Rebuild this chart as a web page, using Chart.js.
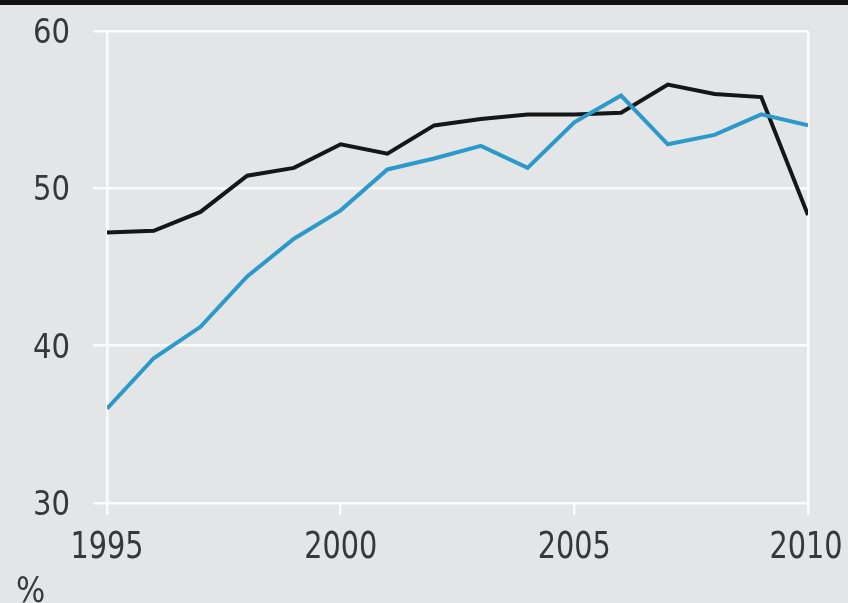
<!DOCTYPE html>
<html>
<head>
<meta charset="utf-8">
<script src="https://cdn.jsdelivr.net/npm/chart.js@4"></script>
<style>
  html, body { margin: 0; padding: 0; background: #e4e5e6; }
  #wrap { position: relative; width: 848px; height: 603px; overflow: hidden; }
  #topbar { position: absolute; left: 0; top: 0; width: 848px; height: 5px; background: #111; }
  canvas { display: block; }
</style>
</head>
<body>
<div id="wrap">
  <canvas id="c" width="848" height="603"></canvas>
  <div id="topbar"></div>
</div>
<script>
// chart values
const years = [1995, 1996, 1997, 1998, 1999, 2000, 2001, 2002, 2003, 2004, 2005, 2006, 2007, 2008, 2009, 2010];
const blackSeries = [47.2, 47.3, 48.5, 50.8, 51.3, 52.8, 52.2, 54.0, 54.4, 54.7, 54.7, 54.8, 56.6, 56.0, 55.8, 48.3];
const blueSeries = [36.0, 39.2, 41.2, 44.4, 46.8, 48.6, 51.2, 51.9, 52.7, 51.3, 54.2, 55.9, 52.8, 53.4, 54.7, 54.0];
const yTicks = [30, 40, 50, 60];
const xTicks = [1995, 2000, 2005, 2010];
const unitLabel = "%";

const FONT = "'DejaVu Sans Condensed', 'DejaVu Sans', sans-serif";
const INK = "#383838";
const WHITE = "#fbfbfb";

const toPts = (arr) => arr.map((v, i) => ({ x: years[i], y: v }));

// squeezed text, to get closer to the narrow DIN-style face of the original
function narrowText(ctx, text, x, y, size, squeeze, align) {
  ctx.save();
  ctx.font = size + "px " + FONT;
  ctx.fillStyle = INK;
  ctx.textBaseline = "alphabetic";
  ctx.textAlign = align;
  ctx.translate(x, y);
  ctx.scale(squeeze, 1);
  ctx.fillText(text, 0, 0);
  ctx.restore();
}

// tick labels + "%" unit, placed from the chart's own scales
const labelsPlugin = {
  id: "labels",
  afterDraw(chart) {
    const ctx = chart.ctx;
    const xs = chart.scales.x, ys = chart.scales.y;
    xs.ticks.forEach((t) => {
      let px = xs.getPixelForValue(t.value);
      px = Math.min(px, 806);
      narrowText(ctx, String(t.value), px, xs.bottom - 45, 38, 0.84, "center");
    });
    ys.ticks.forEach((t) => {
      narrowText(ctx, String(t.value), 70, ys.getPixelForValue(t.value) + 12, 34, 0.95, "right");
    });
    narrowText(ctx, unitLabel, 16, 602, 36, 0.95, "left");
  },
};

new Chart(document.getElementById("c").getContext("2d"), {
  type: "line",
  data: {
    datasets: [
      { data: toPts(blueSeries), borderColor: "#2b9acb", borderWidth: 4, pointRadius: 0, tension: 0 },
      { data: toPts(blackSeries), borderColor: "#161616", borderWidth: 4, pointRadius: 0, tension: 0 },
    ],
  },
  options: {
    responsive: false, animation: false,
    layout: { padding: { top: 31, right: 40, left: 0, bottom: 0 } },
    scales: {
      x: {
        type: "linear", min: 1995, max: 2010,
        afterBuildTicks: (s) => { s.ticks = xTicks.map((v) => ({ value: v })); },
        afterFit: (s) => { s.height = 100; s.paddingLeft = 0; s.paddingRight = 0; },
        ticks: { display: false },
        grid: { color: (c) => (c.tick && (c.tick.value === 1995 || c.tick.value === 2010)) ? WHITE : "rgba(0,0,0,0)",
          tickColor: WHITE, lineWidth: 2.5, tickLength: 12 },
        border: { display: false },
      },
      y: {
        min: 30, max: 60,
        afterBuildTicks: (s) => { s.ticks = yTicks.map((v) => ({ value: v })); },
        afterFit: (s) => { s.width = 107; s.paddingTop = 0; s.paddingBottom = 0; },
        ticks: { display: false },
        grid: { color: WHITE, tickColor: WHITE, lineWidth: 2.5, tickLength: 14 },
        border: { display: false },
      },
    },
    plugins: { legend: { display: false }, tooltip: { enabled: false } },
  },
  plugins: [labelsPlugin],
});
</script>
</body>
</html>
